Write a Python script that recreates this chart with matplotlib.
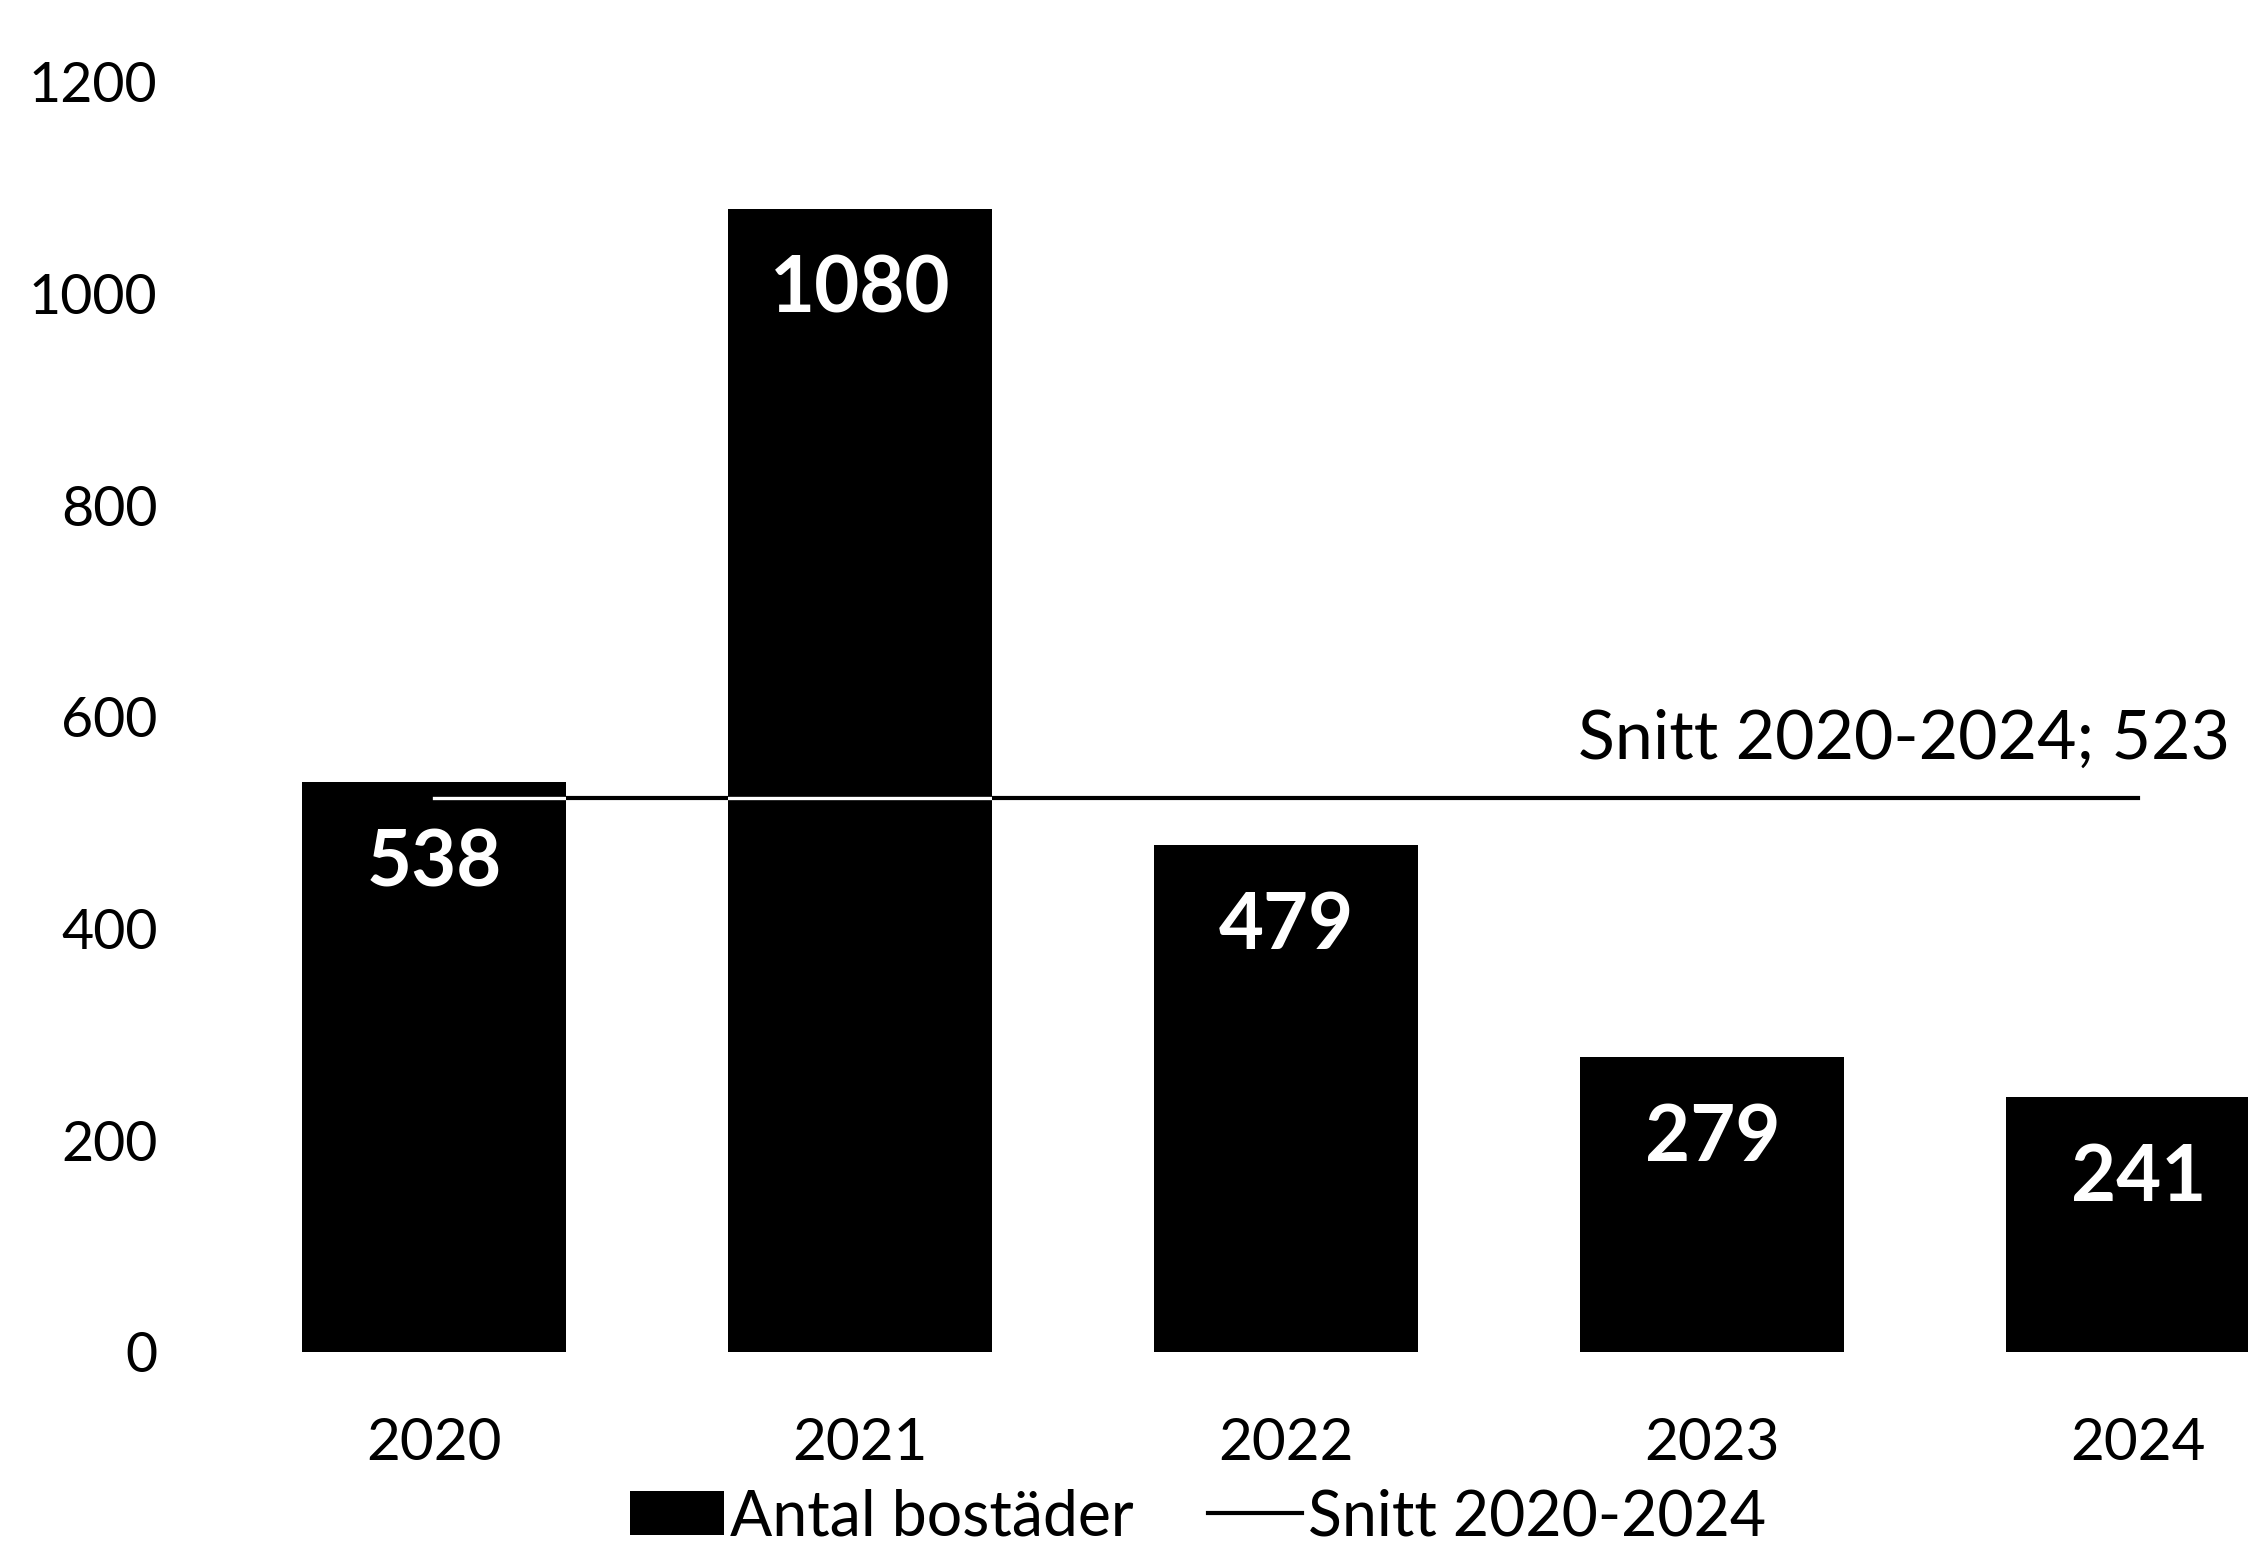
import matplotlib
matplotlib.use("Agg")
import matplotlib.pyplot as plt

# data
years = ["2020", "2021", "2022", "2023", "2024"]
antal = [538, 1080, 479, 279, 241]
snitt = 523
yticks = [0, 200, 400, 600, 800, 1000, 1200]

plt.rcParams["font.family"] = ["Lato", "DejaVu Sans"]

fig = plt.figure(figsize=(22.48, 15.45), dpi=100)
# axes runs past the right edge, the last bar is cut off like in the original
ax = fig.add_axes([0.0985, 0.125, 0.9475, 0.822])

x = list(range(len(years)))
bars = ax.bar(x, antal, width=0.62, color="black", label="Antal bostäder", zorder=2)

# average line, black on white and white where it crosses the bars
line, = ax.plot([x[0], x[-1]], [snitt, snitt], color="black", lw=3.0,
                label="Snitt 2020-2024", zorder=3)
for b in bars:
    wl, = ax.plot([x[0], x[-1]], [snitt, snitt], color="white", lw=2.4, zorder=4)
    wl.set_clip_path(b)

# value labels inside the bars
for xi, v in zip(x, antal):
    ax.annotate(str(v), xy=(xi, v), xytext=(0, -59), textcoords="offset points",
                ha="center", va="center", color="white", fontsize=56,
                fontweight="bold", zorder=5)

ax.annotate("Snitt 2020-2024; " + str(snitt), xy=(x[-1], snitt),
            xytext=(66, 42), textcoords="offset points",
            ha="right", va="center", fontsize=49, color="black")

ax.set_xlim(-0.5, 4.5)
ax.set_ylim(0, 1200)
ax.set_xticks(x)
ax.set_xticklabels(years)
ax.set_yticks(yticks)
ax.tick_params(axis="both", length=0)
ax.tick_params(axis="y", pad=46, labelsize=40)
ax.tick_params(axis="x", pad=47, labelsize=42)
for sp in ax.spines.values():
    sp.set_visible(False)

fig.legend(handles=[bars, line], loc="center", bbox_to_anchor=(0.533, 0.018),
           ncol=2, frameon=False, fontsize=45, handlelength=1.5,
           handletextpad=0.1, columnspacing=1.2, borderaxespad=0)

fig.savefig("out.png", dpi=100)
